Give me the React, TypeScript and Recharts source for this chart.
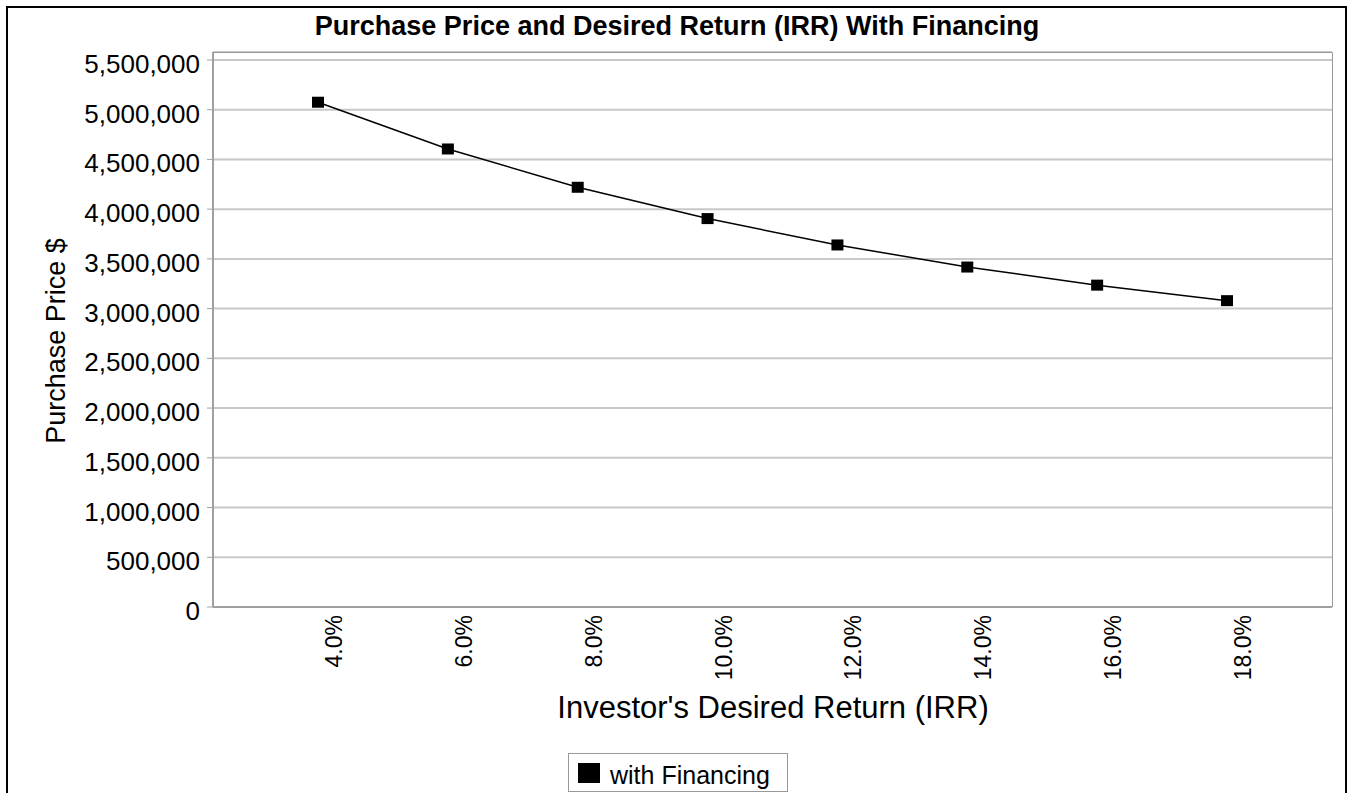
import { LineChart, Line, XAxis, YAxis, CartesianGrid } from 'recharts';

const categories = ['4.0%', '6.0%', '8.0%', '10.0%', '12.0%', '14.0%', '16.0%', '18.0%'];
const purchasePrice = [5075000, 4605000, 4220000, 3905000, 3640000, 3418000, 3236000, 3080000];
const yTicks = [0, 500000, 1000000, 1500000, 2000000, 2500000, 3000000, 3500000, 4000000, 4500000, 5000000, 5500000];

const data = categories.map((irr, i) => ({ irr, price: purchasePrice[i] }));

const FONT = '"Liberation Sans", Arial, sans-serif';

const YTick = ({ x, y, payload }: any) => (
  <text x={x} y={y} dy={4} textAnchor="end" dominantBaseline="central" fontSize={26} fontFamily={FONT} fill="#000">
    {Number(payload.value).toLocaleString('en-US')}
  </text>
);

const XTick = ({ x, y, payload }: any) => (
  <text
    transform={`translate(${x + 16},${y}) rotate(-90)`}
    textAnchor="end"
    dominantBaseline="central"
    fontSize={23}
    fontFamily={FONT}
    fill="#000"
  >
    {payload.value}
  </text>
);

const SquareDot = ({ cx, cy }: any) => (
  <rect x={cx - 6} y={cy - 5.5} width={12} height={11} fill="#000" />
);

export default function App() {
  return (
    <div style={{ position: 'absolute', left: 0, top: 0, width: 1350, height: 793, overflow: 'hidden', background: '#fff' }}>
      <div
        style={{
          position: 'absolute',
          left: 6,
          top: 6,
          width: 1337,
          height: 900,
          border: '2px solid #000',
          pointerEvents: 'none',
        }}
      />
      <LineChart width={1350} height={793} data={data} margin={{ top: 52, right: 18, bottom: 86, left: 0 }}>
        <CartesianGrid vertical={false} stroke="#c8c8c8" strokeWidth={2} />
        <XAxis
          dataKey="irr"
          height={100}
          padding={{ left: 105, right: 105 }}
          axisLine={{ stroke: '#a0a0a0', strokeWidth: 2 }}
          tickLine={false}
          tickSize={0}
          tickMargin={8}
          tick={<XTick />}
          interval={0}
        />
        <YAxis
          width={213}
          domain={[0, 5580000]}
          ticks={yTicks}
          interval={0}
          axisLine={{ stroke: '#a0a0a0', strokeWidth: 2 }}
          tickLine={{ stroke: '#a0a0a0' }}
          tickSize={6}
          tickMargin={7}
          tick={<YTick />}
        />
        <Line
          type="linear"
          dataKey="price"
          stroke="#000"
          strokeWidth={1.5}
          dot={<SquareDot />}
          isAnimationActive={false}
        />
      </LineChart>
      <svg width={1350} height={793} style={{ position: 'absolute', left: 0, top: 0, pointerEvents: 'none' }}>
        <path d="M213,52.5 H1332.5 V607" fill="none" stroke="#999" strokeWidth={1} />
        <text x={677} y={35} textAnchor="middle" fontSize={27} fontWeight="bold" fontFamily={FONT} fill="#000">
          Purchase Price and Desired Return (IRR) With Financing
        </text>
        <text x={773} y={718} textAnchor="middle" fontSize={31} fontFamily={FONT} fill="#000">
          Investor's Desired Return (IRR)
        </text>
        <text transform="translate(65,341) rotate(-90)" textAnchor="middle" fontSize={27} fontFamily={FONT} fill="#000">
          Purchase Price $
        </text>
        <rect x={568.5} y={753.5} width={219} height={38} fill="#fff" stroke="#999" strokeWidth={1} />
        <rect x={578} y={763} width={22} height={20} fill="#000" />
        <text x={610} y={784} fontSize={25} fontFamily={FONT} fill="#000">
          with Financing
        </text>
      </svg>
    </div>
  );
}
